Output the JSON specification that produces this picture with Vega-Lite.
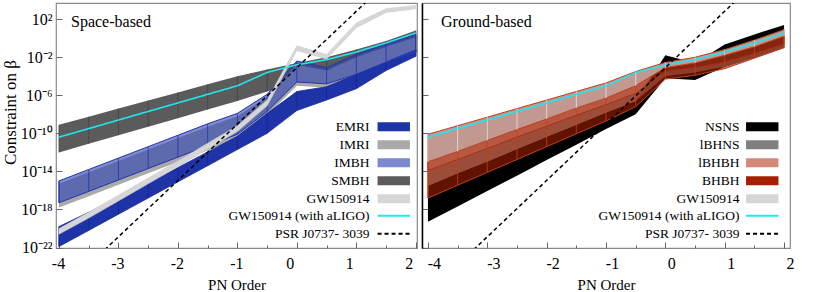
{
  "$schema": "https://vega.github.io/schema/vega-lite/v6.json",
  "padding": {"left": 0, "top": 2, "right": 0, "bottom": 0},
  "config": {
    "view": {"stroke": "#8a8a8a", "strokeWidth": 1.2},
    "font": "Liberation Serif",
    "axis": {"labelFont": "Liberation Serif", "titleFont": "Liberation Serif", "labelColor": "#000", "titleColor": "#000", "labelFontSize": 16, "titleFontSize": 15, "titleFontWeight": "normal", "domain": false, "grid": false, "tickColor": "#666", "labelOverlap": false, "labelFlush": false, "labelBound": false},
    "legend": {"labelFont": "Liberation Serif", "labelFontSize": 13.5, "labelColor": "#000", "symbolOpacity": 1},
    "title": {"font": "Liberation Serif", "fontSize": 16, "fontWeight": "normal", "color": "#000"}
  },
  "datasets": {
    "space": [
      {"series": "SMBH", "pn": -4, "hi": -9.1, "lo": -12.0}, {"series": "SMBH", "pn": -3.5, "hi": -8.25, "lo": -11.1}, {"series": "SMBH", "pn": -3, "hi": -7.4, "lo": -10.2}, {"series": "SMBH", "pn": -2.5, "hi": -6.55, "lo": -9.3}, {"series": "SMBH", "pn": -2, "hi": -5.7, "lo": -8.4}, {"series": "SMBH", "pn": -1.5, "hi": -4.85, "lo": -7.5}, {"series": "SMBH", "pn": -1, "hi": -4.0, "lo": -6.6}, {"series": "SMBH", "pn": -0.5, "hi": -3.3, "lo": -5.6}, {"series": "SMBH", "pn": 0, "hi": -2.6, "lo": -4.6}, {"series": "SMBH", "pn": 0.5, "hi": -2.0, "lo": -4.0}, {"series": "SMBH", "pn": 1, "hi": -1.2, "lo": -3.3}, {"series": "SMBH", "pn": 1.5, "hi": -0.3, "lo": -2.4}, {"series": "SMBH", "pn": 2, "hi": 0.8, "lo": -1.4},
      {"series": "IMRI", "pn": -4, "hi": -15.3, "lo": -17.8}, {"series": "IMRI", "pn": -3.5, "hi": -14.1, "lo": -16.6}, {"series": "IMRI", "pn": -3, "hi": -12.9, "lo": -15.4}, {"series": "IMRI", "pn": -2.5, "hi": -11.7, "lo": -14.2}, {"series": "IMRI", "pn": -2, "hi": -10.5, "lo": -13.0}, {"series": "IMRI", "pn": -1.5, "hi": -9.3, "lo": -11.8}, {"series": "IMRI", "pn": -1, "hi": -8.2, "lo": -10.6}, {"series": "IMRI", "pn": -0.5, "hi": -6.2, "lo": -8.1}, {"series": "IMRI", "pn": 0, "hi": -2.8, "lo": -5.0}, {"series": "IMRI", "pn": 0.5, "hi": -3.4, "lo": -5.2}, {"series": "IMRI", "pn": 1, "hi": -2.0, "lo": -4.2}, {"series": "IMRI", "pn": 1.5, "hi": -0.9, "lo": -3.0}, {"series": "IMRI", "pn": 2, "hi": 0.1, "lo": -1.9},
      {"series": "EMRI", "pn": -4, "hi": -19.8, "lo": -21.9}, {"series": "EMRI", "pn": -3.5, "hi": -18.3, "lo": -20.2}, {"series": "EMRI", "pn": -3, "hi": -16.8, "lo": -18.5}, {"series": "EMRI", "pn": -2.5, "hi": -15.2, "lo": -16.8}, {"series": "EMRI", "pn": -2, "hi": -13.6, "lo": -15.1}, {"series": "EMRI", "pn": -1.5, "hi": -11.95, "lo": -13.4}, {"series": "EMRI", "pn": -1, "hi": -10.3, "lo": -11.7}, {"series": "EMRI", "pn": -0.5, "hi": -7.9, "lo": -10.0}, {"series": "EMRI", "pn": 0, "hi": -5.6, "lo": -7.6}, {"series": "EMRI", "pn": 0.5, "hi": -5.1, "lo": -6.5}, {"series": "EMRI", "pn": 1, "hi": -3.8, "lo": -5.3}, {"series": "EMRI", "pn": 1.5, "hi": -2.5, "lo": -3.4}, {"series": "EMRI", "pn": 2, "hi": -1.2, "lo": -1.9},
      {"series": "IMBH", "pn": -4, "hi": -15.0, "lo": -17.3}, {"series": "IMBH", "pn": -3.5, "hi": -13.8, "lo": -16.1}, {"series": "IMBH", "pn": -3, "hi": -12.6, "lo": -14.9}, {"series": "IMBH", "pn": -2.5, "hi": -11.4, "lo": -13.7}, {"series": "IMBH", "pn": -2, "hi": -10.2, "lo": -12.5}, {"series": "IMBH", "pn": -1.5, "hi": -9.0, "lo": -11.3}, {"series": "IMBH", "pn": -1, "hi": -7.9, "lo": -10.1}, {"series": "IMBH", "pn": -0.5, "hi": -5.9, "lo": -7.7}, {"series": "IMBH", "pn": 0, "hi": -2.4, "lo": -4.6}, {"series": "IMBH", "pn": 0.5, "hi": -3.1, "lo": -4.8}, {"series": "IMBH", "pn": 1, "hi": -1.7, "lo": -3.8}, {"series": "IMBH", "pn": 1.5, "hi": -0.6, "lo": -2.6}, {"series": "IMBH", "pn": 2, "hi": 0.4, "lo": -1.5},
      {"series": "GW150914", "pn": -4, "hi": -20.0, "lo": -20.6}, {"series": "GW150914", "pn": -3.5, "hi": -18.3, "lo": -18.9}, {"series": "GW150914", "pn": -3, "hi": -16.5, "lo": -17.1}, {"series": "GW150914", "pn": -2.5, "hi": -14.7, "lo": -15.3}, {"series": "GW150914", "pn": -2, "hi": -12.9, "lo": -13.5}, {"series": "GW150914", "pn": -1.5, "hi": -11.05, "lo": -11.65}, {"series": "GW150914", "pn": -1, "hi": -9.2, "lo": -9.8}, {"series": "GW150914", "pn": -0.5, "hi": -6.5, "lo": -7.1}, {"series": "GW150914", "pn": 0, "hi": -0.8, "lo": -1.3}, {"series": "GW150914", "pn": 0.5, "hi": -1.7, "lo": -2.2}, {"series": "GW150914", "pn": 1, "hi": 1.6, "lo": 1.1}, {"series": "GW150914", "pn": 1.5, "hi": 3.1, "lo": 2.7}, {"series": "GW150914", "pn": 2, "hi": 3.45, "lo": 3.1},
      {"series": "GW150914 (with aLIGO)", "pn": -4, "v": -10.4}, {"series": "GW150914 (with aLIGO)", "pn": -3.5, "v": -9.5}, {"series": "GW150914 (with aLIGO)", "pn": -3, "v": -8.6}, {"series": "GW150914 (with aLIGO)", "pn": -2.5, "v": -7.7}, {"series": "GW150914 (with aLIGO)", "pn": -2, "v": -6.8}, {"series": "GW150914 (with aLIGO)", "pn": -1.5, "v": -5.9}, {"series": "GW150914 (with aLIGO)", "pn": -1, "v": -5.0}, {"series": "GW150914 (with aLIGO)", "pn": -0.5, "v": -3.6}, {"series": "GW150914 (with aLIGO)", "pn": 0, "v": -2.8}, {"series": "GW150914 (with aLIGO)", "pn": 0.5, "v": -2.25}, {"series": "GW150914 (with aLIGO)", "pn": 1, "v": -1.45}, {"series": "GW150914 (with aLIGO)", "pn": 1.5, "v": -0.5}, {"series": "GW150914 (with aLIGO)", "pn": 2, "v": 0.55},
      {"series": "PSR J0737- 3039", "pn": -4, "v": -26.8}, {"series": "PSR J0737- 3039", "pn": 2.1, "v": 9.35}
    ],
    "ground": [
      {"series": "NSNS", "pn": -4, "hi": -15.5, "lo": -19.3}, {"series": "NSNS", "pn": -3.5, "hi": -14.2, "lo": -17.7}, {"series": "NSNS", "pn": -3, "hi": -12.95, "lo": -16.05}, {"series": "NSNS", "pn": -2.5, "hi": -11.65, "lo": -14.45}, {"series": "NSNS", "pn": -2, "hi": -10.35, "lo": -12.8}, {"series": "NSNS", "pn": -1.5, "hi": -9.1, "lo": -11.2}, {"series": "NSNS", "pn": -1, "hi": -7.8, "lo": -9.55}, {"series": "NSNS", "pn": -0.5, "hi": -6.6, "lo": -8.0}, {"series": "NSNS", "pn": 0, "hi": -1.8, "lo": -4.2}, {"series": "NSNS", "pn": 0.5, "hi": -2.6, "lo": -4.4}, {"series": "NSNS", "pn": 1, "hi": -0.65, "lo": -3.0}, {"series": "NSNS", "pn": 1.5, "hi": 0.4, "lo": -2.0}, {"series": "NSNS", "pn": 2, "hi": 1.4, "lo": -1.0},
      {"series": "GW150914", "pn": -4, "hi": -10.1, "lo": -13.0}, {"series": "GW150914", "pn": -3.5, "hi": -9.2, "lo": -11.9}, {"series": "GW150914", "pn": -3, "hi": -8.3, "lo": -10.75}, {"series": "GW150914", "pn": -2.5, "hi": -7.4, "lo": -9.6}, {"series": "GW150914", "pn": -2, "hi": -6.5, "lo": -8.5}, {"series": "GW150914", "pn": -1.5, "hi": -5.6, "lo": -7.35}, {"series": "GW150914", "pn": -1, "hi": -4.7, "lo": -6.3}, {"series": "GW150914", "pn": -0.5, "hi": -3.5, "lo": -5.0}, {"series": "GW150914", "pn": 0, "hi": -2.55, "lo": -3.1}, {"series": "GW150914", "pn": 0.5, "hi": -2.0, "lo": -2.6}, {"series": "GW150914", "pn": 1, "hi": -1.2, "lo": -1.8}, {"series": "GW150914", "pn": 1.5, "hi": -0.2, "lo": -0.9}, {"series": "GW150914", "pn": 2, "hi": 0.9, "lo": 0.2},
      {"series": "lBHNS", "pn": -4, "hi": -13.9, "lo": -15.5}, {"series": "lBHNS", "pn": -3.5, "hi": -12.75, "lo": -14.2}, {"series": "lBHNS", "pn": -3, "hi": -11.6, "lo": -12.95}, {"series": "lBHNS", "pn": -2.5, "hi": -10.4, "lo": -11.65}, {"series": "lBHNS", "pn": -2, "hi": -9.25, "lo": -10.35}, {"series": "lBHNS", "pn": -1.5, "hi": -8.1, "lo": -9.1}, {"series": "lBHNS", "pn": -1, "hi": -7.0, "lo": -7.8}, {"series": "lBHNS", "pn": -0.5, "hi": -5.8, "lo": -6.6}, {"series": "lBHNS", "pn": 0, "hi": -3.5, "lo": -4.0}, {"series": "lBHNS", "pn": 0.5, "hi": -3.1, "lo": -3.6}, {"series": "lBHNS", "pn": 1, "hi": -2.5, "lo": -3.0}, {"series": "lBHNS", "pn": 1.5, "hi": -1.6, "lo": -2.1}, {"series": "lBHNS", "pn": 2, "hi": -0.6, "lo": -1.0},
      {"series": "lBHBH", "pn": -4, "hi": -10.1, "lo": -13.9}, {"series": "lBHBH", "pn": -3.5, "hi": -9.2, "lo": -12.75}, {"series": "lBHBH", "pn": -3, "hi": -8.3, "lo": -11.6}, {"series": "lBHBH", "pn": -2.5, "hi": -7.4, "lo": -10.4}, {"series": "lBHBH", "pn": -2, "hi": -6.5, "lo": -9.25}, {"series": "lBHBH", "pn": -1.5, "hi": -5.6, "lo": -8.1}, {"series": "lBHBH", "pn": -1, "hi": -4.7, "lo": -7.0}, {"series": "lBHBH", "pn": -0.5, "hi": -3.5, "lo": -5.8}, {"series": "lBHBH", "pn": 0, "hi": -2.55, "lo": -3.5}, {"series": "lBHBH", "pn": 0.5, "hi": -2.0, "lo": -3.1}, {"series": "lBHBH", "pn": 1, "hi": -1.2, "lo": -2.5}, {"series": "lBHBH", "pn": 1.5, "hi": -0.2, "lo": -1.6}, {"series": "lBHBH", "pn": 2, "hi": 0.9, "lo": -0.6},
      {"series": "BHBH", "pn": -4, "hi": -13.0, "lo": -16.8}, {"series": "BHBH", "pn": -3.5, "hi": -11.9, "lo": -15.45}, {"series": "BHBH", "pn": -3, "hi": -10.75, "lo": -14.1}, {"series": "BHBH", "pn": -2.5, "hi": -9.6, "lo": -12.75}, {"series": "BHBH", "pn": -2, "hi": -8.5, "lo": -11.4}, {"series": "BHBH", "pn": -1.5, "hi": -7.35, "lo": -10.05}, {"series": "BHBH", "pn": -1, "hi": -6.3, "lo": -8.7}, {"series": "BHBH", "pn": -0.5, "hi": -5.0, "lo": -7.2}, {"series": "BHBH", "pn": 0, "hi": -3.1, "lo": -4.3}, {"series": "BHBH", "pn": 0.5, "hi": -2.6, "lo": -3.9}, {"series": "BHBH", "pn": 1, "hi": -1.8, "lo": -3.2}, {"series": "BHBH", "pn": 1.5, "hi": -0.9, "lo": -2.1}, {"series": "BHBH", "pn": 2, "hi": 0.2, "lo": -1.0},
      {"series": "GW150914 (with aLIGO)", "pn": -4, "v": -10.4}, {"series": "GW150914 (with aLIGO)", "pn": -3.5, "v": -9.5}, {"series": "GW150914 (with aLIGO)", "pn": -3, "v": -8.6}, {"series": "GW150914 (with aLIGO)", "pn": -2.5, "v": -7.7}, {"series": "GW150914 (with aLIGO)", "pn": -2, "v": -6.8}, {"series": "GW150914 (with aLIGO)", "pn": -1.5, "v": -5.9}, {"series": "GW150914 (with aLIGO)", "pn": -1, "v": -5.0}, {"series": "GW150914 (with aLIGO)", "pn": -0.5, "v": -3.6}, {"series": "GW150914 (with aLIGO)", "pn": 0, "v": -2.8}, {"series": "GW150914 (with aLIGO)", "pn": 0.5, "v": -2.25}, {"series": "GW150914 (with aLIGO)", "pn": 1, "v": -1.45}, {"series": "GW150914 (with aLIGO)", "pn": 1.5, "v": -0.5}, {"series": "GW150914 (with aLIGO)", "pn": 2, "v": 0.55},
      {"series": "PSR J0737- 3039", "pn": -4, "v": -26.8}, {"series": "PSR J0737- 3039", "pn": 2.1, "v": 9.35}
    ]
  },
  "spacing": 0,
  "resolve": {"scale": {"fill": "independent", "stroke": "independent", "strokeDash": "independent", "x": "independent", "y": "independent"}, "legend": {"fill": "independent", "stroke": "independent", "strokeDash": "independent"}},
  "hconcat": [
    {
      "width": 361, "height": 245,
      "data": {"name": "space"},
      "title": {"text": "Space-based", "anchor": "start", "frame": "group", "offset": -27, "dx": 15, "font": "Liberation Serif", "fontSize": 16, "fontWeight": "normal"},
      "encoding": {
        "x": {"field": "pn", "type": "quantitative", "scale": {"domain": [-4.05, 2.02], "nice": false, "zero": false},
          "axis": {"title": "PN Order", "titleFont": "Liberation Serif", "labelFont": "Liberation Serif", "titlePadding": 3, "values": [-4, -3.5, -3, -2.5, -2, -1.5, -1, -0.5, 0, 0.5, 1, 1.5, 2], "labelExpr": "datum.value % 1 == 0 ? '' + datum.value : ''", "tickSize": {"condition": {"test": "datum.value % 1 == 0", "value": -6}, "value": -3}, "labelPadding": 13.5, "labelOffset": {"condition": {"test": "datum.value >= 0", "value": -7}, "value": -1}}}
      },
      "layer": [
        {"transform": [{"filter": "datum.series == 'SMBH'"}], "mark": {"type": "area", "opacity": 1},
          "encoding": {
            "y": {"field": "hi", "type": "quantitative", "scale": {"domain": [-22.05, 3.7], "nice": false, "zero": false},
              "axis": {"title": "Constraint on β", "titleFont": "Liberation Serif", "labelFont": "Liberation Serif", "titleFontSize": 17, "titleX": -41, "titleY": 109, "titleAngle": -90, "titleAlign": "center", "titleBaseline": "alphabetic", "values": [-22, -21, -20, -19, -18, -17, -16, -15, -14, -13, -12, -11, -10, -9, -8, -7, -6, -5, -4, -3, -2, -1, 0, 1, 2, 3], "labelExpr": "(datum.value + 22) % 4 == 0 ? ['10⁻²²','10⁻¹⁸','10⁻¹⁴','10⁻¹⁰','10⁻⁶','10⁻²','10²'][(datum.value + 22) / 4] : ''", "tickSize": {"condition": {"test": "(datum.value + 22) % 4 == 0", "value": -6}, "value": -3}, "labelPadding": 10}},
            "y2": {"field": "lo"},
            "fill": {"field": "series", "type": "nominal",
              "scale": {"domain": ["EMRI", "IMRI", "IMBH", "SMBH", "GW150914"], "range": ["#1f33a8", "#aaaaaa", "#7c88cf", "#5b5b5b", "#d6d6d6"]},
              "legend": {"title": null, "orient": "none", "legendX": 331, "legendY": 117, "symbolType": "M-3.6,-1H3.6V1H-3.6Z", "symbolSize": 81, "symbolStrokeWidth": 0, "labelAlign": "right", "labelOffset": -31, "rowPadding": 3}}
          }},
        {"transform": [{"filter": "datum.series == 'SMBH'"}], "mark": {"type": "rule", "color": "#444444", "strokeWidth": 0.8},
          "encoding": {"y": {"field": "hi", "type": "quantitative"}, "y2": {"field": "lo"}}},
        {"transform": [{"filter": "datum.series == 'IMRI'"}], "mark": {"type": "area", "opacity": 1},
          "encoding": {"y": {"field": "hi", "type": "quantitative"}, "y2": {"field": "lo"}, "fill": {"field": "series", "type": "nominal"}}},
        {"transform": [{"filter": "datum.series == 'EMRI'"}], "mark": {"type": "area", "opacity": 1, "stroke": "#1a2a98", "strokeWidth": 0.8},
          "encoding": {"y": {"field": "hi", "type": "quantitative"}, "y2": {"field": "lo"}, "fill": {"field": "series", "type": "nominal"}}},
        {"transform": [{"filter": "datum.series == 'EMRI'"}], "mark": {"type": "rule", "color": "#16258c", "strokeWidth": 0.8},
          "encoding": {"y": {"field": "hi", "type": "quantitative"}, "y2": {"field": "lo"}}},
        {"transform": [{"filter": "datum.series == 'IMBH'"}], "mark": {"type": "area", "fill": "#2a3fb0", "fillOpacity": 0.6, "stroke": "#2035b0", "strokeWidth": 1},
          "encoding": {"y": {"field": "hi", "type": "quantitative"}, "y2": {"field": "lo"}}},
        {"transform": [{"filter": "datum.series == 'IMBH'"}], "mark": {"type": "rule", "color": "#2035a8", "strokeWidth": 0.8},
          "encoding": {"y": {"field": "hi", "type": "quantitative"}, "y2": {"field": "lo"}}},
        {"transform": [{"filter": "datum.series == 'GW150914'"}], "mark": {"type": "area", "opacity": 1, "stroke": "#cfcfcf", "strokeWidth": 0.6},
          "encoding": {"y": {"field": "hi", "type": "quantitative"}, "y2": {"field": "lo"}, "fill": {"field": "series", "type": "nominal"}}},
        {"transform": [{"filter": "datum.series == 'GW150914 (with aLIGO)'"}], "mark": {"type": "line", "strokeWidth": 1.6},
          "encoding": {"y": {"field": "v", "type": "quantitative"},
            "stroke": {"field": "series", "type": "nominal", "scale": {"domain": ["GW150914 (with aLIGO)", "PSR J0737- 3039"], "range": ["#1fe6ef", "#000000"]},
              "legend": {"title": null, "orient": "none", "legendX": 331, "legendY": 206, "symbolType": "M-3.6,0H3.6", "symbolSize": 81, "symbolStrokeWidth": 2, "labelAlign": "right", "labelOffset": -31, "rowPadding": 3}},
            "strokeDash": {"field": "series", "type": "nominal", "scale": {"domain": ["GW150914 (with aLIGO)", "PSR J0737- 3039"], "range": [[1, 0], [4, 3]]},
              "legend": {"title": null, "orient": "none", "legendX": 331, "legendY": 206, "symbolType": "M-3.6,0H3.6", "symbolSize": 81, "symbolStrokeWidth": 2, "labelAlign": "right", "labelOffset": -31, "rowPadding": 3}}}},
        {"transform": [{"filter": "datum.series == 'PSR J0737- 3039'"}], "mark": {"type": "line", "strokeWidth": 1.5, "clip": true},
          "encoding": {"y": {"field": "v", "type": "quantitative"}, "stroke": {"field": "series", "type": "nominal"}, "strokeDash": {"field": "series", "type": "nominal"}}}
      ]
    },
    {
      "width": 368, "height": 245,
      "data": {"name": "ground"},
      "title": {"text": "Ground-based", "anchor": "start", "frame": "group", "offset": -27, "dx": 19, "font": "Liberation Serif", "fontSize": 16, "fontWeight": "normal"},
      "encoding": {
        "x": {"field": "pn", "type": "quantitative", "scale": {"domain": [-4.1, 2.1], "nice": false, "zero": false},
          "axis": {"title": "PN Order", "titleFont": "Liberation Serif", "labelFont": "Liberation Serif", "titlePadding": 3, "values": [-4, -3.5, -3, -2.5, -2, -1.5, -1, -0.5, 0, 0.5, 1, 1.5, 2], "labelExpr": "datum.value % 1 == 0 ? '' + datum.value : ''", "tickSize": {"condition": {"test": "datum.value % 1 == 0", "value": -6}, "value": -3}, "labelPadding": 13.5, "labelOffset": 6}}
      },
      "layer": [
        {"transform": [{"filter": "datum.series == 'NSNS'"}], "mark": {"type": "area", "opacity": 1},
          "encoding": {
            "y": {"field": "hi", "type": "quantitative", "scale": {"domain": [-22.05, 3.7], "nice": false, "zero": false},
              "axis": {"title": null, "labels": false, "domain": true, "domainColor": "#000000", "domainWidth": 1.5, "values": [-22, -21, -20, -19, -18, -17, -16, -15, -14, -13, -12, -11, -10, -9, -8, -7, -6, -5, -4, -3, -2, -1, 0, 1, 2, 3], "tickSize": {"condition": {"test": "(datum.value + 22) % 4 == 0", "value": -6}, "value": -3}}},
            "y2": {"field": "lo"},
            "fill": {"field": "series", "type": "nominal",
              "scale": {"domain": ["NSNS", "lBHNS", "lBHBH", "BHBH", "GW150914"], "range": ["#000000", "#7f7f7f", "#d4887a", "#a52000", "#d6d6d6"]},
              "legend": {"title": null, "orient": "none", "legendX": 333.5, "legendY": 117, "symbolType": "M-3.6,-1H3.6V1H-3.6Z", "symbolSize": 81, "symbolStrokeWidth": 0, "labelAlign": "right", "labelOffset": -29.5, "rowPadding": 3}}
          }},
        {"transform": [{"filter": "datum.series == 'GW150914'"}], "mark": {"type": "area", "opacity": 1},
          "encoding": {"y": {"field": "hi", "type": "quantitative"}, "y2": {"field": "lo"}, "fill": {"field": "series", "type": "nominal"}}},
        {"transform": [{"filter": "datum.series == 'lBHNS'"}], "mark": {"type": "area", "fillOpacity": 0.85},
          "encoding": {"y": {"field": "hi", "type": "quantitative"}, "y2": {"field": "lo"}, "fill": {"field": "series", "type": "nominal"}}},
        {"transform": [{"filter": "datum.series == 'lBHBH'"}], "mark": {"type": "area", "fill": "#ac5c4c", "fillOpacity": 0.5, "stroke": "#c0401c", "strokeWidth": 1},
          "encoding": {"y": {"field": "hi", "type": "quantitative"}, "y2": {"field": "lo"}}},
        {"transform": [{"filter": "datum.series == 'BHBH'"}], "mark": {"type": "area", "fill": "#a31f00", "fillOpacity": 0.6, "stroke": "#c0401c", "strokeWidth": 1},
          "encoding": {"y": {"field": "hi", "type": "quantitative"}, "y2": {"field": "lo"}}},
        {"transform": [{"filter": "datum.series == 'BHBH'"}], "mark": {"type": "rule", "color": "#c0401c", "strokeWidth": 0.8},
          "encoding": {"y": {"field": "hi", "type": "quantitative"}, "y2": {"field": "lo"}}},
        {"transform": [{"filter": "datum.series == 'GW150914'"}], "mark": {"type": "rule", "color": "#e4e4e4", "strokeWidth": 0.8},
          "encoding": {"y": {"field": "hi", "type": "quantitative"}, "y2": {"field": "lo"}}},
        {"transform": [{"filter": "datum.series == 'GW150914 (with aLIGO)'"}], "mark": {"type": "line", "strokeWidth": 1.6},
          "encoding": {"y": {"field": "v", "type": "quantitative"},
            "stroke": {"field": "series", "type": "nominal", "scale": {"domain": ["GW150914 (with aLIGO)", "PSR J0737- 3039"], "range": ["#1fe6ef", "#000000"]},
              "legend": {"title": null, "orient": "none", "legendX": 333.5, "legendY": 206, "symbolType": "M-3.6,0H3.6", "symbolSize": 81, "symbolStrokeWidth": 2, "labelAlign": "right", "labelOffset": -29.5, "rowPadding": 3}},
            "strokeDash": {"field": "series", "type": "nominal", "scale": {"domain": ["GW150914 (with aLIGO)", "PSR J0737- 3039"], "range": [[1, 0], [4, 3]]},
              "legend": {"title": null, "orient": "none", "legendX": 333.5, "legendY": 206, "symbolType": "M-3.6,0H3.6", "symbolSize": 81, "symbolStrokeWidth": 2, "labelAlign": "right", "labelOffset": -29.5, "rowPadding": 3}}}},
        {"transform": [{"filter": "datum.series == 'PSR J0737- 3039'"}], "mark": {"type": "line", "strokeWidth": 1.5, "clip": true},
          "encoding": {"y": {"field": "v", "type": "quantitative"}, "stroke": {"field": "series", "type": "nominal"}, "strokeDash": {"field": "series", "type": "nominal"}}}
      ]
    }
  ]
}
